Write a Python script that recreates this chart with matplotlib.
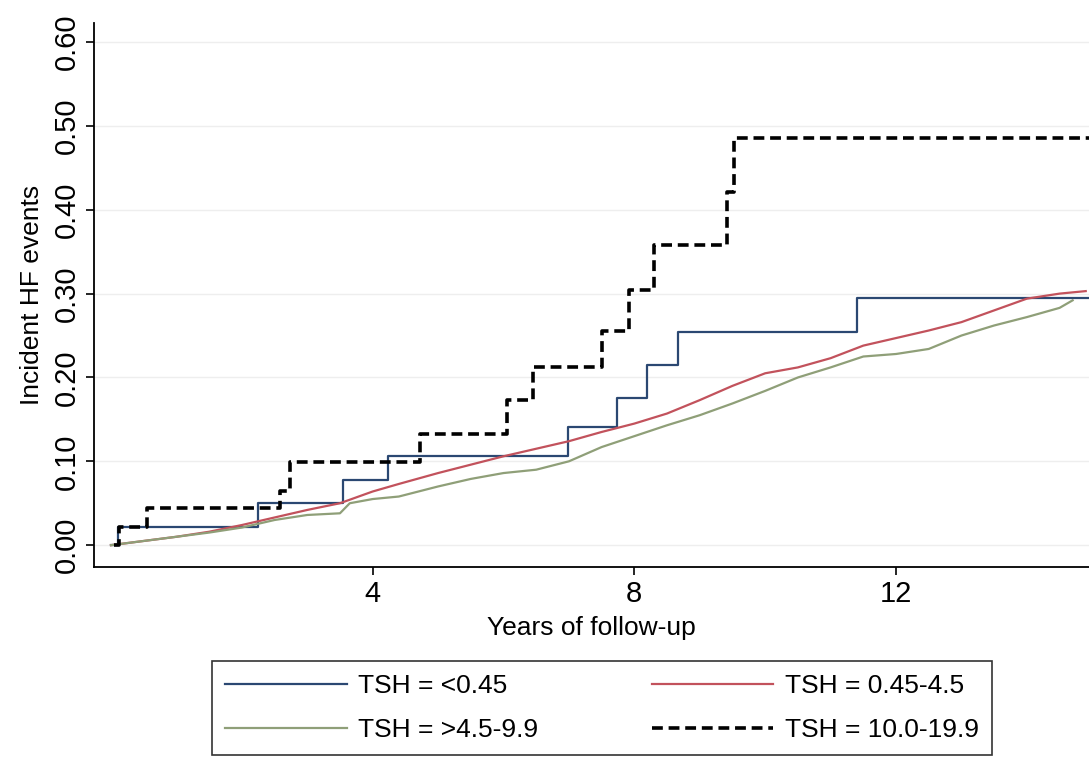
import numpy as np
import matplotlib.pyplot as plt
from matplotlib import font_manager

# font: narrow sans if available
names = {f.name for f in font_manager.fontManager.ttflist}
fam = 'Liberation Sans Narrow' if 'Liberation Sans Narrow' in names else 'Liberation Sans'
plt.rcParams['font.family'] = [fam, 'DejaVu Sans']

# step curves (time, cumulative incidence)
low_x = [0, 0.1, 2.25, 3.55, 4.24, 6.98, 7.74, 8.2, 8.66, 11.4, 14.95]
low_y = [0, 0.022, 0.05, 0.078, 0.106, 0.141, 0.175, 0.215, 0.254, 0.295, 0.295]

sub_x = [0.05, 0.12, 0.55, 2.58, 2.73, 4.72, 6.06, 6.45, 7.51, 7.92, 8.3, 9.42, 9.53, 14.95]
sub_y = [0, 0.022, 0.044, 0.065, 0.099, 0.133, 0.173, 0.213, 0.255, 0.304, 0.358, 0.421, 0.486, 0.486]

# near-continuous curves for the big groups
t = [0, 0.5, 1.0, 1.5, 2.0, 2.5, 3.0, 3.5, 4.0, 4.4, 5.0, 5.5, 6.0, 6.5, 7.0, 7.5,
     8.0, 8.5, 9.0, 9.5, 10.0, 10.5, 11.0, 11.5, 12.0, 12.5, 13.0, 13.5, 14.0, 14.5, 14.9]
norm_y = [0, 0.005, 0.01, 0.016, 0.024, 0.033, 0.042, 0.05, 0.064, 0.073, 0.086, 0.096,
          0.106, 0.115, 0.124, 0.135, 0.145, 0.157, 0.173, 0.19, 0.205, 0.212, 0.223,
          0.238, 0.247, 0.256, 0.266, 0.28, 0.294, 0.3, 0.303]
t2 = [0, 0.5, 1.0, 1.5, 2.0, 2.5, 3.0, 3.5, 3.65, 4.0, 4.4, 5.0, 5.5, 6.0, 6.5, 7.0, 7.5,
      8.0, 8.5, 9.0, 9.5, 10.0, 10.5, 11.0, 11.5, 12.0, 12.5, 13.0, 13.5, 14.0, 14.5, 14.7]
mild_y = [0, 0.005, 0.01, 0.015, 0.021, 0.03, 0.036, 0.038, 0.05, 0.055, 0.058, 0.07,
          0.079, 0.086, 0.09, 0.1, 0.117, 0.13, 0.143, 0.155, 0.169, 0.184, 0.2, 0.212,
          0.225, 0.228, 0.234, 0.25, 0.262, 0.272, 0.283, 0.292]

labels = ['TSH = <0.45', 'TSH = 0.45-4.5', 'TSH = >4.5-9.9', 'TSH = 10.0-19.9']

fig = plt.figure(figsize=(10.89, 7.6), dpi=100)
ax = fig.add_axes([0.0863, 0.254, 0.9137, 0.716])

l1, = ax.step(low_x, low_y, where='post', color='#2b4872', lw=1.6)
l2, = ax.plot(t, norm_y, color='#c2525c', lw=1.6)
l3, = ax.plot(t2, mild_y, color='#8f9f78', lw=1.6)
l4, = ax.step(sub_x, sub_y, where='post', color='black', lw=2.6, dashes=(3, 1.6))

ax.set_xlim(-0.26, 14.95)
ax.set_ylim(-0.026, 0.623)
ax.set_xticks([4, 8, 12])
ax.set_yticks(np.arange(0, 0.61, 0.1))
ax.set_yticklabels(['%.2f' % v for v in np.arange(0, 0.61, 0.1)], rotation=90, va='center')
ax.tick_params(labelsize=21, length=6, width=1.2)
ax.grid(axis='y', color='#eeeeee', lw=1)
ax.set_axisbelow(True)
for s in ['top', 'right']:
    ax.spines[s].set_visible(False)
ax.spines['left'].set_linewidth(1.3)
ax.spines['bottom'].set_linewidth(1.3)

ax.set_xlabel('Years of follow-up', fontsize=19, labelpad=6)
ax.set_ylabel('Incident HF events', fontsize=19, labelpad=6)

# legend filled row by row: matplotlib fills by column, so reorder
leg = fig.legend([l1, l3, l2, l4], [labels[0], labels[2], labels[1], labels[3]],
                 ncol=2, loc='center', bbox_to_anchor=(0.553, 0.068), fontsize=19,
                 frameon=True, fancybox=False, edgecolor='black', handlelength=4.6,
                 handletextpad=0.45, columnspacing=4.3, borderpad=0.5,
                 labelspacing=0.75)
leg.get_frame().set_linewidth(1.2)

fig.savefig('out.png', dpi=100)
